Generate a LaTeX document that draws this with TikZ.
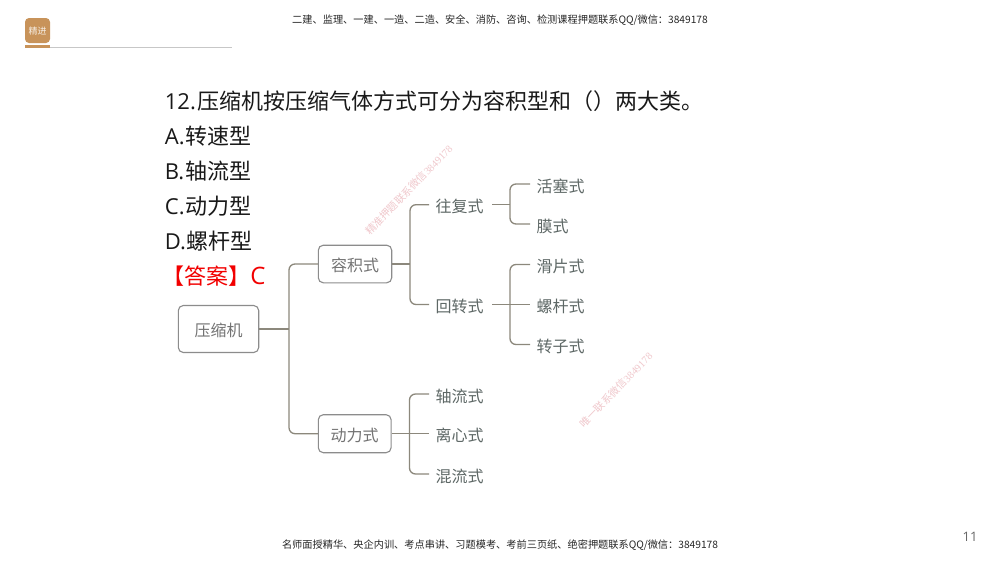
\documentclass[tikz,border=0pt]{standalone}
\usepackage{fontspec}
\setmainfont{Noto Sans CJK SC}
\newfontfamily\latinfont{Open Sans}
\newfontfamily\markdigits{Liberation Serif}
\begin{document}
\begin{tikzpicture}[x=0.5pt,y=-0.5pt,
  qtext/.style={anchor=west,inner sep=0pt,font=\fontsize{11pt}{13pt}\selectfont,text=black!90},
  boxnode/.style={draw=black!45,line width=0.55pt,rounded corners=2.5pt,fill=white,align=center,inner sep=0pt,text=black!55,text height=8.5pt,text depth=1pt,font=\fontsize{8pt}{10pt}\selectfont},
  leaf/.style={inner sep=0pt,minimum width=30pt,text width=24pt,align=left,text=leafc,text height=9pt,text depth=1pt,font=\fontsize{8pt}{10pt}\selectfont},
  link/.style={draw=linkc,line width=0.65pt,rounded corners=3pt},
  small/.style={inner sep=0pt,text=black!85,font=\fontsize{5.1pt}{6pt}\selectfont},
  mark0/.style={inner sep=0pt,text=markc,font=\fontsize{5.2pt}{6pt}\selectfont}]
\definecolor{linkc}{HTML}{8C887C}
\definecolor{markc}{HTML}{F0C8CC}
\definecolor{logoc}{HTML}{C8935A}
\definecolor{leafc}{HTML}{5E6866}
\useasboundingbox (0,0) rectangle (1000,562);
\fill[white] (0,0) rectangle (1000,562);
% header
\node[small] (hdr) at (500,20) {二建、监理、一建、一造、二造、安全、消防、咨询、检测课程押题联系QQ/微信：3849178};
\node[small] (ftr) at (500,545) {名师面授精华、央企内训、考点串讲、习题模考、考前三页纸、绝密押题联系QQ/微信：3849178};
\node[inner sep=0pt,text=black!60,font=\latinfont\fontsize{6.5pt}{8pt}\selectfont] (pg) at (970,537) {11};
\fill[logoc,rounded corners=2pt] (25,18) rectangle (50,43);
\node[inner sep=0pt,text=white!85!logoc,font=\fontsize{4.5pt}{5pt}\selectfont] (logo) at (37.5,31) {精进};
\fill[logoc] (25,45) rectangle (50,48);
\fill[black!22] (50,46.5) rectangle (232,47.7);
% question
\node[qtext] (q0) at (164.5,101) {\latinfont 12.\hspace{0.6pt}\normalfont 压缩机按压缩气体方式可分为容积型和（）两大类。};
\node[qtext] (qa) at (164.5,136) {\latinfont A.\hspace{0.5pt}\normalfont 转速型};
\node[qtext] (qb) at (164.5,171) {\latinfont B.\hspace{0.5pt}\normalfont 轴流型};
\node[qtext] (qc) at (164.5,206) {\latinfont C.\hspace{0.5pt}\normalfont 动力型};
\node[qtext] (qd) at (164.5,241) {\latinfont D.\hspace{0.5pt}\normalfont 螺杆型};
\node[qtext,text=red!95!black] (ans) at (162,276) {【答案】\latinfont\fontsize{12pt}{13pt}\selectfont C};
% watermarks
\node[mark0,rotate=46] (w1) at (409,190) {精准押题联系微信\markdigits 3849178};
\node[mark0,rotate=46] (w2) at (616,390) {唯一联系微信\markdigits 3849178};
% nodes
\node[boxnode,minimum width=40.2pt,minimum height=23.5pt] (root) at (218.5,329) {压缩机};
\node[boxnode,minimum width=36.7pt,minimum height=18.8pt] (rj) at (355,264) {容积式};
\node[boxnode,minimum width=36.4pt,minimum height=19pt] (dl) at (354.7,433.7) {动力式};
\node[leaf] (wf) at (459.5,204.7) {往复式};
\node[leaf] (hz) at (459.5,304.5) {回转式};
\node[leaf] (hs) at (560.5,184) {活塞式};
\node[leaf] (mo) at (560.5,224) {膜式};
\node[leaf] (hp) at (560.5,264.5) {滑片式};
\node[leaf] (lg) at (560.5,304.5) {螺杆式};
\node[leaf] (zz) at (560.5,344.5) {转子式};
\node[leaf] (zl) at (459.5,394) {轴流式};
\node[leaf] (lx) at (459.5,433.7) {离心式};
\node[leaf] (hl) at (459.5,474) {混流式};
% trunk positions
\coordinate (t0) at (289,329);
\coordinate (t1) at (410,264);
\coordinate (t2) at (510,204.7);
\coordinate (t3) at (510,304.5);
\coordinate (t4) at (409.5,433.7);
% stems
\draw[link] (root.east) -- (t0);
\draw[link] (rj.east) -- (t1);
\draw[link] (dl.east) -- (lx.west);
\draw[link] ([xshift=1.25pt]wf.east) -- (t2);
\draw[link] ([xshift=1.25pt]hz.east) -- (lg.west);
% trunks
\draw[link] (rj.west) -- (t0 |- rj.west) -- (t0 |- dl.west) -- (dl.west);
\draw[link] (wf.west) -- (t1 |- wf.west) -- (t1 |- hz.west) -- (hz.west);
\draw[link] (zl.west) -- (t4 |- zl.west) -- (t4 |- hl.west) -- (hl.west);
\draw[link] (hs.west) -- (t2 |- hs.west) -- (t2 |- mo.west) -- (mo.west);
\draw[link] (hp.west) -- (t3 |- hp.west) -- (t3 |- zz.west) -- (zz.west);
\end{tikzpicture}
\end{document}
